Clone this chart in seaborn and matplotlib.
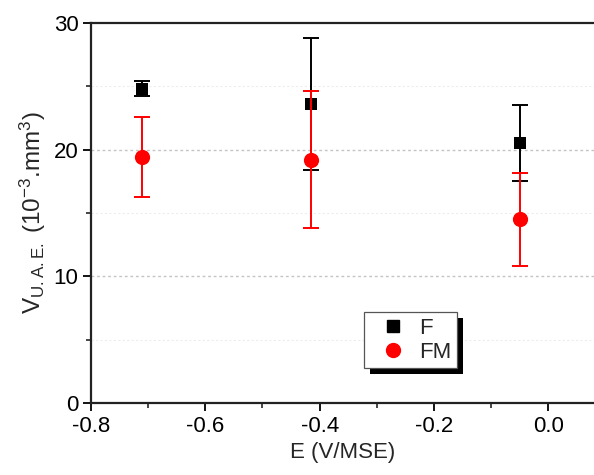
import matplotlib
matplotlib.use("Agg")
import matplotlib.pyplot as plt
from matplotlib.patches import Rectangle
from matplotlib.lines import Line2D
import seaborn as sns
import pandas as pd
import numpy as np

# data
E_F = [-0.71, -0.416, -0.05]
V_F = [24.8, 23.6, 20.5]
err_F = [0.6, 5.2, 3.0]
E_FM = [-0.71, -0.416, -0.05]
V_FM = [19.4, 19.2, 14.5]
err_FM = [3.15, 5.4, 3.65]
series_names = ["F", "FM"]
x_ticks = [-0.8, -0.6, -0.4, -0.2, 0.0]
y_ticks = [0, 10, 20, 30]

sns.set_theme(style="white")
plt.rcParams['font.family'] = ['Liberation Sans', 'DejaVu Sans']
plt.rcParams['mathtext.fontset'] = 'custom'
plt.rcParams['mathtext.rm'] = 'Liberation Sans'
plt.rcParams['mathtext.it'] = 'Liberation Sans:italic'
plt.rcParams['mathtext.default'] = 'regular'

fig = plt.figure(figsize=(5.94, 4.75), dpi=100)
ax = fig.add_axes([91/594, 1-403/475, 1-91/594+0.002, 380/475])

df = pd.DataFrame({
    "E": E_F + E_FM,
    "V": V_F + V_FM,
    "err": err_F + err_FM,
    "s": [series_names[0]]*len(E_F) + [series_names[1]]*len(E_FM),
})

# grid
for y in [10, 20]:
    ax.axhline(y, color="#c4c4c4", lw=1.0, ls=(0, (2, 2)), zorder=0)
for y in [5, 15, 25]:
    ax.axhline(y, color="#ededed", lw=0.8, ls=(0, (2, 2)), zorder=0)

dF = df[df.s == "F"]
dFM = df[df.s == "FM"]
ax.errorbar(dF.E, dF.V, yerr=dF.err, fmt="none", ecolor="black", elinewidth=1.4,
            capsize=6, capthick=1.4, zorder=2)
sns.scatterplot(data=dF, x="E", y="V", marker="s", color="black", s=75,
                edgecolor="black", linewidth=0, ax=ax, zorder=3, legend=False)
ax.errorbar(dFM.E, dFM.V, yerr=dFM.err, fmt="none", ecolor="#ff0000", elinewidth=1.4,
            capsize=6, capthick=1.4, zorder=4)
sns.scatterplot(data=dFM, x="E", y="V", marker="o", color="#ff0000", s=120,
                edgecolor="#ff0000", linewidth=0, ax=ax, zorder=5, legend=False)

ax.set_xlim(-0.8, 0.082)
ax.set_ylim(0, 30)
ax.set_xticks(x_ticks)
ax.set_xticklabels([f"{t:.1f}" for t in x_ticks])
ax.set_yticks(y_ticks)
ax.set_xticks(np.arange(-0.7, 0.05, 0.2), minor=True)
ax.set_yticks([5, 15, 25], minor=True)
ax.tick_params(axis="both", which="major", direction="out", length=6, width=1.3,
               labelsize=16, colors="black", bottom=True, left=True, pad=3)
ax.tick_params(axis="both", which="minor", direction="out", length=3.5, width=1.2,
               bottom=True, left=True)
for sp in ["left", "bottom", "top"]:
    ax.spines[sp].set_color("#222222")
    ax.spines[sp].set_linewidth(1.6)
ax.spines["right"].set_visible(False)

ax.set_xlabel("E (V/MSE)", fontsize=16, labelpad=4)
ax.set_ylabel(r"V$_{U.A.E.}$ (10$^{-3}$.mm$^{3}$)", fontsize=17.5, labelpad=4)

handles = [
    Line2D([], [], marker="s", color="black", ls="none", markersize=8),
    Line2D([], [], marker="o", color="#ff0000", ls="none", markersize=10),
]
leg = ax.legend(handles, series_names, loc="upper left",
                bbox_to_anchor=((363-91)/503, 1-(312-23)/380), bbox_transform=ax.transAxes,
                fontsize=16, frameon=True, fancybox=False, borderpad=0.25,
                handletextpad=0.1, labelspacing=0.15, handlelength=2.15,
                borderaxespad=0)
leg.get_frame().set_edgecolor("#555555")
leg.get_frame().set_linewidth(0.9)
leg.get_frame().set_alpha(1)
leg.set_zorder(10)

fig.canvas.draw()
bb = leg.get_window_extent().transformed(fig.transFigure.inverted())
off_x, off_y = 6/594, -6/475
shadow = Rectangle((bb.x0 + off_x, bb.y0 + off_y), bb.width, bb.height,
                   transform=fig.transFigure, facecolor="black", edgecolor="none",
                   zorder=9, clip_on=False)
ax.add_artist(shadow)
fig.patch.set_facecolor("white")
fig.savefig("out.png", dpi=100)
